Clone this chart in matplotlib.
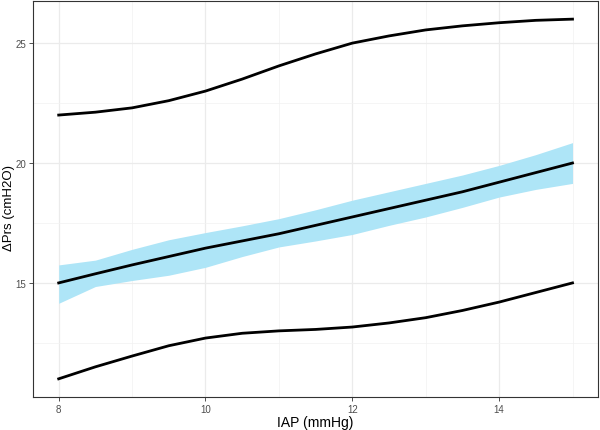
import numpy as np
import matplotlib.pyplot as plt
from matplotlib.ticker import MultipleLocator

plt.rcParams['font.family'] = ['Liberation Sans', 'DejaVu Sans']

# data
iap = [8.0, 8.5, 9.0, 9.5, 10.0, 10.5, 11.0, 11.5, 12.0, 12.5, 13.0, 13.5, 14.0, 14.5, 15.0]
upper_line = [22.0, 22.12, 22.3, 22.6, 23.0, 23.5, 24.05, 24.55, 25.0, 25.3, 25.55, 25.72, 25.85, 25.95, 26.0]
mid_line = [15.0, 15.38, 15.75, 16.1, 16.45, 16.75, 17.05, 17.4, 17.75, 18.1, 18.45, 18.8, 19.2, 19.6, 20.0]
ci_hi = [15.75, 15.95, 16.4, 16.8, 17.1, 17.38, 17.68, 18.05, 18.45, 18.8, 19.15, 19.5, 19.9, 20.35, 20.85]
ci_lo = [14.15, 14.85, 15.1, 15.32, 15.65, 16.1, 16.5, 16.75, 17.02, 17.4, 17.75, 18.15, 18.58, 18.9, 19.15]
lower_line = [11.0, 11.5, 11.95, 12.38, 12.7, 12.9, 13.0, 13.06, 13.16, 13.33, 13.55, 13.85, 14.2, 14.6, 15.0]

fig = plt.figure(figsize=(6, 4.31), dpi=100)
ax = fig.add_axes([0.055, 0.077, 0.942, 0.918])

ax.fill_between(iap, ci_lo, ci_hi, color='#aee5f7', linewidth=0, zorder=2)
for ys in (upper_line, mid_line, lower_line):
    ax.plot(iap, ys, color='black', linewidth=2, zorder=3,
            solid_joinstyle='round')

ax.set_xlim(7.65, 15.35)
ax.set_ylim(10.25, 26.75)
ax.xaxis.set_major_locator(MultipleLocator(2))
ax.xaxis.set_minor_locator(MultipleLocator(1))
ax.yaxis.set_major_locator(MultipleLocator(5))
ax.yaxis.set_minor_locator(MultipleLocator(2.5))

ax.grid(True, which='major', color='#ebebeb', linewidth=0.9, zorder=0)
ax.grid(True, which='minor', color='#f2f2f2', linewidth=0.5, zorder=0)
ax.set_axisbelow(True)
ax.tick_params(which='minor', length=0)
ax.tick_params(which='major', length=3, color='#333333', width=0.6,
               labelsize=7, labelcolor='#4d4d4d', pad=2)
for s in ax.spines.values():
    s.set_color('#333333')
    s.set_linewidth(0.8)

ax.set_xlabel('IAP (mmHg)', fontsize=10)
ax.set_ylabel('ΔPrs (cmH2O)', fontsize=9.5)
ax.xaxis.set_label_coords(0.5, -0.045)
ax.yaxis.set_label_coords(-0.031, 0.48)

plt.savefig('out.png', dpi=100)
